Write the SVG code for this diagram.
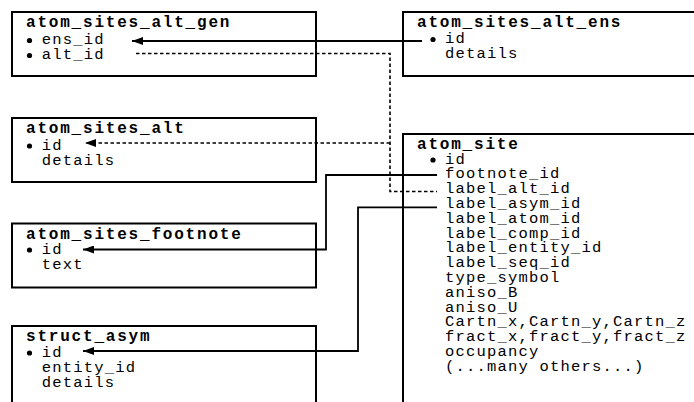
<svg xmlns="http://www.w3.org/2000/svg" width="694" height="402" viewBox="0 0 694 402">
<style>
.box{fill:#fff;stroke:#000;stroke-width:2}
.t{font-family:"Liberation Mono","Courier New",monospace;font-size:16px;font-weight:bold;letter-spacing:1.8px;fill:#000}
.f{font-family:"Liberation Mono","Courier New",monospace;font-size:15.5px;letter-spacing:1.2px;fill:#000}
.c{fill:none;stroke:#000;stroke-width:1.8}
.d{fill:none;stroke:#000;stroke-width:1.6;stroke-dasharray:3.5,2.5}
</style>
<defs>
<marker id="ah" markerUnits="userSpaceOnUse" markerWidth="11" markerHeight="8" viewBox="0 0 11 8" refX="11" refY="4" orient="auto">
<path d="M0,0 L11,4 L0,8 z" fill="#000" stroke="none"/>
</marker>
</defs>
<rect width="694" height="402" fill="#fff"/>
<g id="atom_sites_alt_gen">
<rect class="box" x="12" y="12" width="304" height="64"/>
<text class="t" x="26" y="27">atom_sites_alt_gen</text>
<circle cx="29.5" cy="40.5" r="2.6"/>
<text class="f" x="41.7" y="44">ens_id</text>
<circle cx="29.5" cy="55.5" r="2.6"/>
<text class="f" x="41.7" y="59">alt_id</text>
</g>
<g id="atom_sites_alt_ens">
<rect class="box" x="403" y="12" width="320" height="64"/>
<text class="t" x="417" y="27">atom_sites_alt_ens</text>
<circle cx="433" cy="39.5" r="2.6"/>
<text class="f" x="445" y="43">id</text>
<text class="f" x="445" y="58">details</text>
</g>
<g id="atom_sites_alt">
<rect class="box" x="12" y="118" width="304" height="64"/>
<text class="t" x="26" y="133">atom_sites_alt</text>
<circle cx="29.5" cy="146" r="2.6"/>
<text class="f" x="41.7" y="149.5">id</text>
<text class="f" x="41.7" y="164.5">details</text>
</g>
<g id="atom_sites_footnote">
<rect class="box" x="12" y="223.5" width="304" height="64"/>
<text class="t" x="26" y="238.5">atom_sites_footnote</text>
<circle cx="29.5" cy="250" r="2.6"/>
<text class="f" x="41.7" y="253.5">id</text>
<text class="f" x="41.7" y="268.5">text</text>
</g>
<g id="struct_asym">
<rect class="box" x="12" y="326" width="304" height="100"/>
<text class="t" x="26" y="341">struct_asym</text>
<circle cx="29.5" cy="353" r="2.6"/>
<text class="f" x="41.7" y="356.5">id</text>
<text class="f" x="41.7" y="371.5">entity_id</text>
<text class="f" x="41.7" y="386.5">details</text>
</g>
<g id="atom_site">
<rect class="box" x="403" y="134" width="320" height="300"/>
<text class="t" x="417" y="148.5">atom_site</text>
<circle cx="433" cy="160" r="2.6"/>
<text class="f" x="445" y="163.5">id</text>
<text class="f" x="445" y="178.3">footnote_id</text>
<text class="f" x="445" y="193.1">label_alt_id</text>
<text class="f" x="445" y="207.9">label_asym_id</text>
<text class="f" x="445" y="222.7">label_atom_id</text>
<text class="f" x="445" y="237.5">label_comp_id</text>
<text class="f" x="445" y="252.3">label_entity_id</text>
<text class="f" x="445" y="267.1">label_seq_id</text>
<text class="f" x="445" y="281.9">type_symbol</text>
<text class="f" x="445" y="296.7">aniso_B</text>
<text class="f" x="445" y="311.5">aniso_U</text>
<text class="f" x="445" y="326.3">Cartn_x,Cartn_y,Cartn_z</text>
<text class="f" x="445" y="341.1">fract_x,fract_y,fract_z</text>
<text class="f" x="445" y="355.9">occupancy</text>
<text class="f" x="445" y="370.7">(...many others...)</text>
</g>
<g id="connectors">
<path class="c" d="M422,41 H132" marker-end="url(#ah)"/>
<path class="d" d="M136,53.5 H390 V191.5 H437"/>
<path class="d" d="M390,143 H85" marker-end="url(#ah)"/>
<path class="c" d="M437,175 H326 V249.5 H83" marker-end="url(#ah)"/>
<path class="c" d="M437,207.3 H358 V351 H83" marker-end="url(#ah)"/>
</g>
</svg>
